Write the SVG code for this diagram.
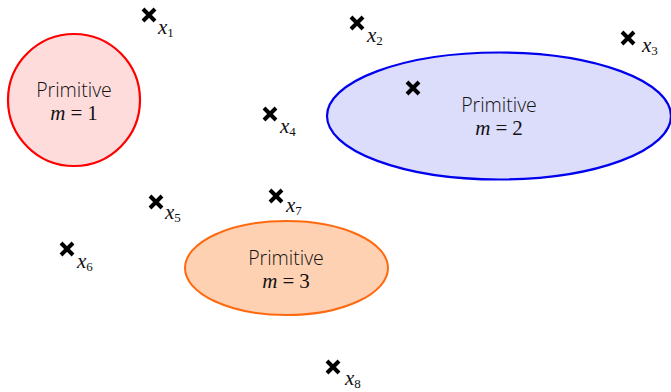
<svg xmlns="http://www.w3.org/2000/svg" width="671" height="392" viewBox="0 0 671 392">
<style>
.lbl{font-family:"Open Sans","DejaVu Sans",sans-serif;font-weight:300;font-size:19.5px;fill:#111;text-anchor:middle}
.math{font-family:"Liberation Serif","Times New Roman",serif;font-size:21px;fill:#111;text-anchor:middle}
.mi{font-style:italic}
.xl{font-family:"Liberation Serif","Times New Roman",serif;font-size:21px;font-style:italic;fill:#111}
.sub{font-style:normal;font-size:13px}
.cross{stroke:#000;stroke-width:4;stroke-linecap:butt}
</style>
<defs>
<g id="cross"><path class="cross" d="M-6,-6L6,6M-6,6L6,-6"/></g>
</defs>
<g id="prim1">
<ellipse cx="74" cy="100" rx="66" ry="66" fill="#ffdcdc" stroke="#ff0000" stroke-width="2.2"/>
<text class="lbl" x="74" y="97">Primitive</text>
<text class="math" x="74" y="120"><tspan class="mi">m</tspan><tspan dx="5">=</tspan><tspan dx="5">1</tspan></text>
</g>
<g id="prim2">
<ellipse cx="499" cy="116" rx="172" ry="63.5" fill="#dcdcfb" stroke="#0000ee" stroke-width="2.2"/>
<text class="lbl" x="499" y="112">Primitive</text>
<text class="math" x="499" y="135"><tspan class="mi">m</tspan><tspan dx="5">=</tspan><tspan dx="5">2</tspan></text>
</g>
<g id="prim3">
<ellipse cx="286.5" cy="268" rx="101.5" ry="47" fill="#ffd1b3" stroke="#ff6a10" stroke-width="2"/>
<text class="lbl" x="286" y="265">Primitive</text>
<text class="math" x="286" y="288"><tspan class="mi">m</tspan><tspan dx="5">=</tspan><tspan dx="5">3</tspan></text>
</g>
<g id="points">
<use href="#cross" x="149" y="15"/>
<text class="xl" x="158" y="34">x<tspan class="sub" dy="3">1</tspan></text>
<use href="#cross" x="357" y="23"/>
<text class="xl" x="367" y="42">x<tspan class="sub" dy="3">2</tspan></text>
<use href="#cross" x="628" y="38"/>
<text class="xl" x="642" y="52">x<tspan class="sub" dy="3">3</tspan></text>
<use href="#cross" x="413" y="88"/>
<use href="#cross" x="270" y="114"/>
<text class="xl" x="280" y="133">x<tspan class="sub" dy="3">4</tspan></text>
<use href="#cross" x="156" y="202"/>
<text class="xl" x="165" y="219">x<tspan class="sub" dy="3">5</tspan></text>
<use href="#cross" x="276" y="196"/>
<text class="xl" x="286" y="212">x<tspan class="sub" dy="3">7</tspan></text>
<use href="#cross" x="67" y="249"/>
<text class="xl" x="77" y="268">x<tspan class="sub" dy="3">6</tspan></text>
<use href="#cross" x="333" y="367"/>
<text class="xl" x="345" y="385">x<tspan class="sub" dy="3">8</tspan></text>
</g>
<g id="connectors"/>
</svg>
